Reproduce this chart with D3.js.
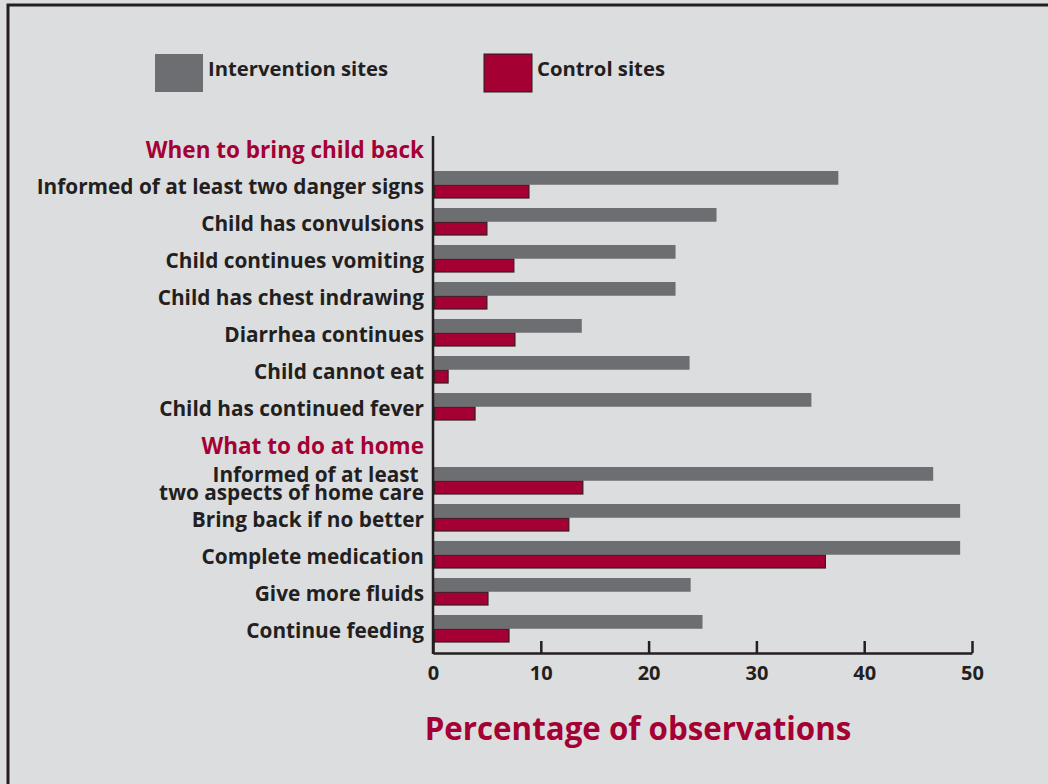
<!DOCTYPE html>
<html>
<head>
<meta charset="utf-8">
<script src="https://cdn.jsdelivr.net/npm/d3@7"></script>
<style>
  body { margin: 0; background: #dcdddf; }
  svg { display: block; font-family: "Open Sans", "Noto Sans", sans-serif; }
  .cat-label { font-size: 20.8px; font-weight: 700; fill: #231f20; white-space: pre; }
  .section-label { font-size: 22.5px; font-weight: 700; fill: #a50034; }
  .axis text { font-size: 20px; font-weight: 700; fill: #231f20; font-family: "Open Sans", sans-serif; }
  .axis path, .axis line { stroke: #231f20; stroke-width: 2.5; }
</style>
</head>
<body>
<svg id="chart" width="1048" height="784"></svg>
<script>
const SECTIONS = ["When to bring child back", "What to do at home"];

const BRING_BACK_LABELS = [
  "Informed of at least two danger signs",
  "Child has convulsions",
  "Child continues vomiting",
  "Child has chest indrawing",
  "Diarrhea continues",
  "Child cannot eat",
  "Child has continued fever"
];
const BRING_BACK_INTERVENTION = [37.6, 26.3, 22.5, 22.5, 13.8, 23.8, 35.1];
const BRING_BACK_CONTROL = [8.9, 5.0, 7.5, 5.0, 7.6, 1.4, 3.9];

const HOME_LABELS = [
  "Informed of at least \ntwo aspects of home care",
  "Bring back if no better",
  "Complete medication",
  "Give more fluids",
  "Continue feeding"
];
const HOME_INTERVENTION = [46.4, 48.9, 48.9, 23.9, 25.0];
const HOME_CONTROL = [13.9, 12.6, 36.4, 5.1, 7.05];

const SERIES = ["Intervention sites", "Control sites"];
const X_TICKS = [0, 10, 20, 30, 40, 50];
const X_TITLE = "Percentage of observations";

const GRAY = "#6d6e71";
const RED = "#a50034";
const INK = "#231f20";

// flatten into slots: a header slot, then one slot per category
const slots = [];
function addSection(title, labels, inter, ctrl) {
  slots.push({ key: "h-" + title, header: true, label: title });
  labels.forEach((l, i) => {
    slots.push({ key: "r-" + l, header: false, label: l, values: [inter[i], ctrl[i]] });
  });
}
addSection(SECTIONS[0], BRING_BACK_LABELS, BRING_BACK_INTERVENTION, BRING_BACK_CONTROL);
addSection(SECTIONS[1], HOME_LABELS, HOME_INTERVENTION, HOME_CONTROL);

const svg = d3.select("#chart");

// frame
svg.append("rect")
  .attr("x", 8).attr("y", 5).attr("width", 1100).attr("height", 900)
  .attr("fill", "#dcdddf").attr("stroke", INK).attr("stroke-width", 3);

const x = d3.scaleLinear().domain([0, 50]).range([433, 972]);
const y = d3.scaleBand().domain(slots.map(d => d.key)).range([131.5, 649.5]);
const ySub = d3.scaleBand().domain(SERIES).range([2.5, 30]);

// bars
const rows = svg.append("g").selectAll("g")
  .data(slots.filter(d => !d.header))
  .join("g")
  .attr("transform", d => `translate(0,${y(d.key)})`);

rows.append("rect")
  .attr("x", x(0))
  .attr("y", ySub(SERIES[0]))
  .attr("height", ySub.bandwidth())
  .attr("width", d => x(d.values[0]) - x(0))
  .attr("fill", GRAY);

rows.append("rect")
  .attr("x", x(0) + 1.5)
  .attr("y", ySub(SERIES[1]) + 0.5)
  .attr("height", ySub.bandwidth() - 1)
  .attr("width", d => x(d.values[1]) - x(0) - 1.5)
  .attr("fill", RED)
  .attr("stroke", "#3a1a22")
  .attr("stroke-width", 1.2);

// category and section labels
const labels = svg.append("g").selectAll("text")
  .data(slots)
  .join("text")
  .attr("class", d => d.header ? "section-label" : "cat-label")
  .attr("text-anchor", "end")
  .attr("x", 424)
  .attr("y", d => y(d.key) + y.bandwidth() / 2);

labels.each(function (d) {
  const lines = d.label.split("\n");
  const t = d3.select(this);
  lines.forEach((line, i) => {
    t.append("tspan")
      .attr("x", 424)
      .attr("dy", i === 0 ? `${0.35 - (lines.length - 1) * 0.42}em` : "0.9em")
      .text(line);
  });
});

// axes
const xAxis = d3.axisBottom(x)
  .tickValues(X_TICKS)
  .tickSizeInner(-12)
  .tickSizeOuter(0)
  .tickPadding(13)
  .tickFormat(d3.format("d"));

svg.append("g")
  .attr("class", "axis")
  .attr("transform", "translate(0,653)")
  .call(xAxis);

svg.append("line")
  .attr("x1", x(0)).attr("x2", x(0))
  .attr("y1", 136).attr("y2", 654)
  .attr("stroke", INK).attr("stroke-width", 2.5);

svg.append("text")
  .attr("x", 638).attr("y", 740)
  .attr("text-anchor", "middle")
  .attr("font-size", 31.3)
  .attr("font-weight", 700)
  .attr("fill", RED)
  .text(X_TITLE);

// legend
const legend = svg.append("g").selectAll("g")
  .data(SERIES)
  .join("g")
  .attr("transform", (d, i) => `translate(${i === 0 ? 155 : 484},54)`);

legend.append("rect")
  .attr("width", 48).attr("height", 38)
  .attr("fill", (d, i) => i === 0 ? GRAY : RED)
  .attr("stroke", (d, i) => i === 0 ? "none" : INK)
  .attr("stroke-width", 1);

legend.append("text")
  .attr("x", 53).attr("y", 22)
  .attr("font-size", 20.3)
  .attr("font-weight", 700)
  .attr("fill", INK)
  .text(d => d);
</script>
</body>
</html>
